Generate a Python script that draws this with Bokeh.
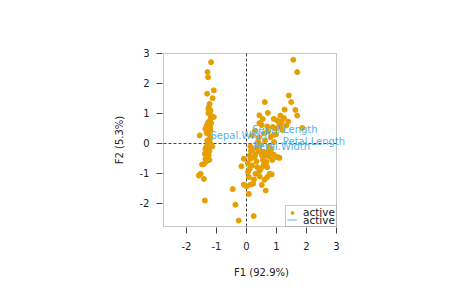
from bokeh.plotting import figure
from bokeh.models import (Label, Legend, LegendItem, FixedTicker,
                          ColumnDataSource, BoxAnnotation, PrintfTickFormatter)
from bokeh.embed import file_html
from bokeh.resources import INLINE

# Individuals' coordinates (F1, F2)
f1 = [-1.18, -1.30, -1.28, -1.09, -1.31, -1.13, -1.23, -1.26, -1.20, -1.27,
      -1.09, -1.20, -1.28, -1.33, -1.37, -1.21, -1.20, -1.26, -1.56, -1.20,
      -1.31, -1.20, -1.14, -1.37, -1.31, -1.39, -1.26, -1.37, -1.31, -1.42,
      -1.48, -1.53, -1.59, -1.42, -1.39, -1.25, -1.22, -1.30, -1.28, -1.24,
      -1.33, -1.19, -1.27, -1.24, -1.35, -1.29, -1.23, -1.32, -1.18, -1.34,
      1.56, 1.69, 0.61, 1.41, 1.49, 1.27, 1.63, 1.69, 0.71, 0.43,
      1.13, 0.54, 0.91, 1.02, 1.09, 1.17, 1.39, 0.43, 0.50, 0.69,
      1.08, 0.97, 1.33, 1.86, 0.91, 0.80, 0.28, 0.19, 0.41, 0.59,
      0.13, 0.22, 0.41, 0.47, 0.58, 0.69, 0.63, 0.52, 0.74, 0.91,
      1.02, 1.10, 0.11, 0.13, -0.09, 0.04, 0.19, 0.36, 0.67, 0.69,
      -0.17, 0.11, 0.43, 0.30, 0.77, 0.84, 0.69, 0.60, 0.44, 0.08,
      -0.09, 0.00, 0.13, 0.22, 0.51, 0.64, -0.46, 0.08, -0.37, 0.24,
      -0.26, 0.44, 0.61, 0.78, 1.06, 0.35, 0.55, 0.65, 0.82, 0.98,
      1.20, 0.38, 0.48, 0.72, 0.15, 0.27, 0.33, 0.56, 0.86, 1.25,
      0.05, 0.25, 0.47, 0.62, 0.75, 0.92, 1.15, 0.30, 0.58, 0.88]
f2 = [2.71, 2.38, 2.21, 1.77, 1.66, 1.51, 1.32, 1.21, 1.10, 1.01,
      0.88, 0.82, 0.71, 0.60, 0.49, 0.54, 0.43, 0.32, 0.27, 0.21,
      0.10, -0.01, -0.10, -0.18, -0.29, -0.34, -0.40, -0.51, -0.46, -0.68,
      -0.70, -1.01, -1.07, -1.18, -1.90, 0.60, 0.15, -0.05, -0.20, -0.55,
      0.35, 0.95, 1.15, -0.25, -0.60, 0.05, 0.40, -0.38, 0.68, -0.12,
      2.79, 2.38, 1.38, 1.60, 1.38, 1.13, 1.12, 0.93, 1.02, 0.94,
      0.93, 0.82, 0.82, 0.77, 0.71, 0.73, 0.73, 0.68, 0.62, 0.57,
      0.57, 0.49, 0.60, 0.52, 0.29, 0.21, 0.43, 0.27, 0.21, 0.34,
      -0.10, -0.18, -0.21, -0.29, -0.29, -0.29, -0.40, -0.40, -0.43, -0.37,
      -0.46, -0.48, -0.40, -0.51, -0.51, -0.66, -0.73, -0.79, -0.62, -0.79,
      -0.76, -0.84, -0.92, -1.01, -1.01, -1.03, -1.12, -1.21, -1.10, -1.12,
      -1.37, -1.43, -1.37, -1.34, -1.38, -1.57, -1.52, -1.68, -2.04, -2.42,
      -2.57, -0.23, -0.29, -0.34, -0.46, -0.12, -0.55, -0.65, -0.20, 0.30,
      0.45, 0.05, -0.05, 0.40, -0.25, -0.45, -0.60, -0.75, -0.55, 0.85,
      -0.95, -1.20, -0.85, 0.10, -0.10, 0.05, 0.60, -0.35, -0.70, 0.55]

# Variables (labels only)
var_names = ["Sepal.Length", "Sepal.Width", "Petal.Length", "Petal.Width"]
var_x = [1.28, -0.20, 2.25, 1.17]
var_y = [0.46, 0.27, 0.07, -0.10]

x_ticks = [-2, -1, 0, 1, 2, 3]
y_ticks = [-2, -1, 0, 1, 2, 3]
box_lim = [-2.767, 3.0]
legend_labels = ["active", "active"]

# frame slightly wider than the drawn box so labels beyond it stay visible
p = figure(width=474, height=293, output_backend="svg", toolbar_location=None,
           x_range=(-2.8, 3.8), y_range=(-2.8, 3.0333),
           min_border_left=162, min_border_right=114,
           min_border_top=52, min_border_bottom=66)
p.background_fill_color = "white"
p.border_fill_color = "white"
p.xgrid.visible = False
p.ygrid.visible = False
p.outline_line_color = None

for ax in (p.xaxis, p.yaxis):
    ax.axis_line_color = None
    ax.major_tick_in = 0
    ax.major_tick_out = 6
    ax.minor_tick_line_color = None
    ax.major_tick_line_color = "#444444"
    ax.major_label_text_font = "DejaVu Sans"
    ax.major_label_text_font_size = "10px"
    ax.major_label_text_color = "#222222"
    ax.axis_label_text_font = "DejaVu Sans"
    ax.axis_label_text_font_size = "10px"
    ax.axis_label_text_font_style = "normal"
    ax.axis_label_text_color = "#222222"
    ax.formatter = PrintfTickFormatter(format="%d")
p.xaxis.ticker = FixedTicker(ticks=x_ticks)
p.yaxis.ticker = FixedTicker(ticks=y_ticks)
p.xaxis.major_label_standoff = 8
p.yaxis.major_label_standoff = 7
p.xaxis.axis_label = "F1 (92.9%)"
p.yaxis.axis_label = "F2 (5.3%)"
p.xaxis.axis_label_standoff = 14
p.yaxis.axis_label_standoff = 12
p.yaxis.major_label_orientation = "horizontal"

# dashed axes through the origin, limited to the box
p.line(x=[0, 0], y=box_lim, line_color="#444444", line_dash="3 2", line_width=1)
p.line(x=box_lim, y=[0, 0], line_color="#444444", line_dash="3 2", line_width=1)

src = ColumnDataSource(dict(x=f1, y=f2))
pts = p.scatter("x", "y", source=src, size=5, fill_color="#E69F00",
                line_color="#E69F00")
ln = p.line(x=[float("nan")], y=[float("nan")], line_color="#56B4E9", line_width=1)

for name, vx, vy in zip(var_names, var_x, var_y):
    p.add_layout(Label(x=vx, y=vy, text=name, text_align="center",
                       text_baseline="middle", text_color="#56B4E9",
                       text_font="DejaVu Sans", text_font_size="10px"))

# plot box
p.add_layout(BoxAnnotation(left=box_lim[0], right=box_lim[1],
                           bottom=box_lim[0], top=box_lim[1],
                           fill_alpha=0, line_color="#444444", line_width=1,
                           level="overlay"))
# legend box (R-style compact legend with overlapping rows)
p.add_layout(BoxAnnotation(left=1.3, right=box_lim[1],
                           bottom=box_lim[0], top=-2.067,
                           fill_color="white", fill_alpha=1.0,
                           line_color="#444444", line_width=1,
                           level="overlay"))

common = dict(margin=0, padding=0, spacing=0,
              label_text_font="DejaVu Sans", label_text_font_size="10.5px",
              label_text_color="#222222", label_height=7, glyph_height=7,
              glyph_width=10, label_standoff=6,
              border_line_color=None, background_fill_alpha=0.0)
leg1 = Legend(items=[LegendItem(label=legend_labels[0], renderers=[pts])],
              location=(125, 9), **common)
leg2 = Legend(items=[LegendItem(label=legend_labels[1], renderers=[ln])],
              location=(125, 1.5), **common)
p.add_layout(leg1)
p.add_layout(leg2)

open("out.html", "w").write(file_html(p, INLINE))
